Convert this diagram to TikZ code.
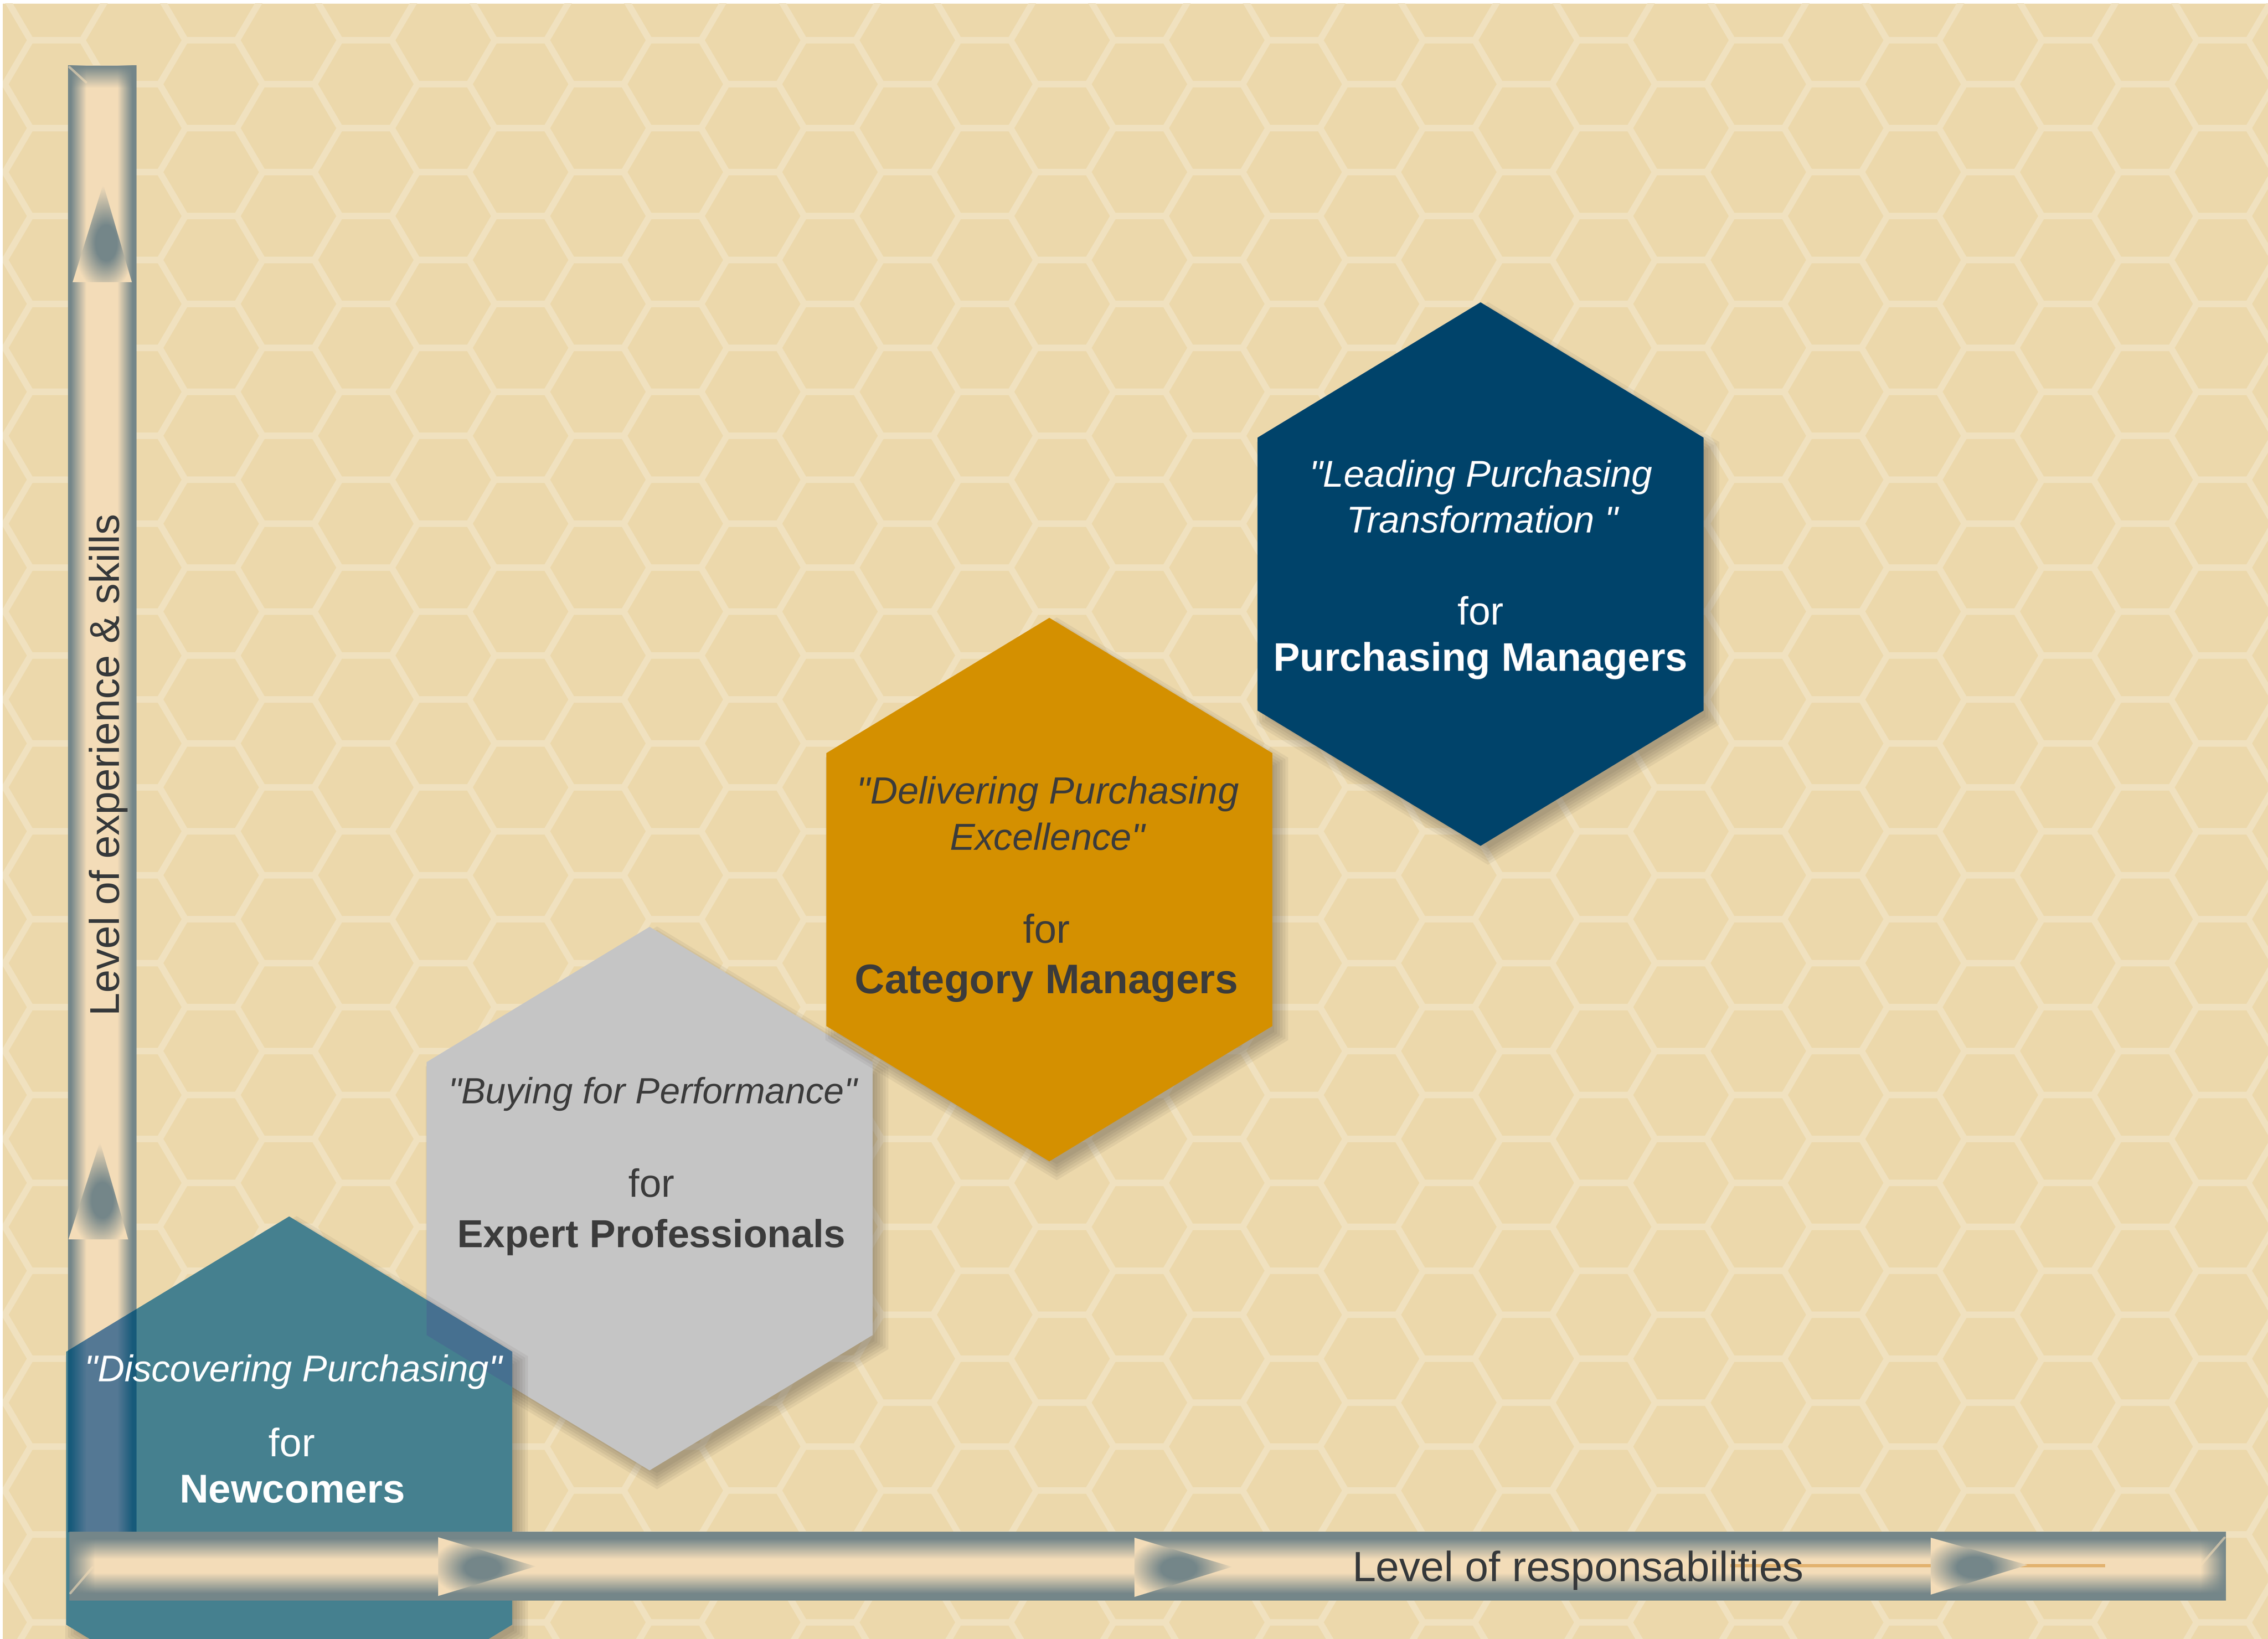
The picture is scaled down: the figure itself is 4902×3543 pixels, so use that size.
\documentclass[tikz,border=0pt]{standalone}
\usepackage{fontspec}
\setmainfont{Liberation Sans}[Ligatures=TeXOff]
\usetikzlibrary{fadings}
\definecolor{bgc}{RGB}{236,216,171}
\definecolor{hexl}{RGB}{240,225,191}
\definecolor{bdark}{RGB}{116,134,137}
\definecolor{bcream}{RGB}{243,220,184}
\definecolor{navyh}{RGB}{0,67,106}
\definecolor{orngh}{RGB}{212,144,0}
\definecolor{grayh}{RGB}{197,197,197}
\definecolor{tealh}{RGB}{69,128,143}
\definecolor{txtd}{RGB}{59,59,59}
\definecolor{axtxt}{RGB}{53,56,58}
\definecolor{shadowc}{RGB}{60,55,48}
\definecolor{ovl}{RGB}{70,112,144}
\definecolor{tbd}{RGB}{23,90,122}
\definecolor{tbm}{RGB}{84,120,148}
\definecolor{oline}{RGB}{226,178,110}
\pgfdeclarehorizontalshading{vbarsh}{100bp}{color(0bp)=(bdark); color(27bp)=(bdark); color(38.5bp)=(bcream); color(61bp)=(bcream); color(72bp)=(bdark); color(100bp)=(bdark)}
\pgfdeclareverticalshading{hbarsh}{100bp}{color(0bp)=(bdark); color(30bp)=(bdark); color(45bp)=(bcream); color(55bp)=(bcream); color(70bp)=(bdark); color(100bp)=(bdark)}
\pgfdeclarehorizontalshading{tbarsh}{100bp}{color(0bp)=(tbd); color(27bp)=(tbd); color(38.5bp)=(tbm); color(61bp)=(tbm); color(72bp)=(tbd); color(100bp)=(tbd)}
\pgfdeclareradialshading{uparr}{\pgfpoint{4bp}{-6bp}}{color(0bp)=(bdark); color(9bp)=(bdark); color(27bp)=(bcream); color(50bp)=(bcream)}
\pgfdeclareradialshading{rtarr}{\pgfpoint{-3bp}{-1bp}}{color(0bp)=(bdark); color(9bp)=(bdark); color(27bp)=(bcream); color(50bp)=(bcream)}
\tikzfading[name=fdown, top color=transparent!0, bottom color=transparent!100]
\tikzfading[name=fright, left color=transparent!0, right color=transparent!100]
\tikzfading[name=fleft, left color=transparent!100, right color=transparent!0]
% hexagon path: centre x, centre y, grow
\newcommand\hexP[3]{({#1},{#2-587.5-1.155*(#3)}) -- ({#1+482+(#3)},{#2-295-0.577*(#3)}) -- ({#1+482+(#3)},{#2+295+0.577*(#3)}) -- ({#1},{#2+587.5+1.155*(#3)}) -- ({#1-482-(#3)},{#2+295+0.577*(#3)}) -- ({#1-482-(#3)},{#2-295-0.577*(#3)}) -- cycle}
\newcommand\hexShadow[2]{\foreach \g in {-12,-6,0,6,12,18}{\fill[shadowc, opacity=0.07] \hexP{#1+16}{#2+20}{\g};}}
\tikzset{
  txt/.style={anchor=base, inner sep=0pt, outer sep=0pt},
}
\begin{document}
\begin{tikzpicture}[x=0.01cm, y=-0.01cm]
\useasboundingbox (0,0) rectangle (4902,3543);
\fill[white] (0,0) rectangle (4902,3543);
\fill[bgc] (6,8) rectangle (4902,3543);
% honeycomb background
\begin{scope}
\clip (6,8) rectangle (4902,3543);
\foreach \j in {-1,...,29}{
  \foreach \i in {-1,...,19}{
    \pgfmathsetmacro\cx{122+167.2*\j}
    \pgfmathsetmacro\cy{182+190*\i+95*mod(\j+2,2)}
    \draw[hexl, line width=0.14cm, line join=round] ({\cx+55.75},{\cy-95}) -- ({\cx-55.75},{\cy-95}) -- ({\cx-111.5},{\cy}) -- ({\cx-55.75},{\cy+95});
  }
}
\end{scope}
% vertical axis bar
\shade[shading=vbarsh] (147,142) rectangle (295,3311);
\fill[bdark, path fading=fdown] (147,142) rectangle (295,190);
\draw[bcream, line width=0.05cm, opacity=0.6, line cap=round] (150,145) -- (186,178);
\shade[shading=uparr] (223,398) -- (285,610) -- (157,610) -- cycle;
\shade[shading=uparr] (216,2468) -- (277,2679) -- (148,2679) -- cycle;
\node[txt, rotate=90, text=axtxt, font={\fontsize{25.6pt}{30pt}\selectfont}] (ylab) at (257,1654) {Level of experience \& skills};
% hexagons
\hexShadow{1404}{2591}
\fill[grayh] \hexP{1404}{2591}{0};
\hexShadow{2268}{1923}
\fill[orngh] \hexP{2268}{1923}{0};
\hexShadow{3200}{1241}
\fill[navyh] \hexP{3200}{1241}{0};
\hexShadow{625}{3217}
\fill[tealh] \hexP{625}{3217}{0};
\begin{scope}
\clip \hexP{625}{3217}{0};
\shade[shading=tbarsh] (147,2600) rectangle (295,3311);
\fill[ovl] \hexP{1404}{2591}{0};
\end{scope}
% horizontal axis bar
\shade[shading=hbarsh] (150,3311) rectangle (4811,3459);
\fill[bdark, path fading=fright] (150,3311) rectangle (205,3459);
\fill[bdark, path fading=fleft] (4756,3311) rectangle (4811,3459);
\draw[bcream, line width=0.05cm, opacity=0.6, line cap=round] (152,3444) -- (200,3388);
\draw[bcream, line width=0.05cm, opacity=0.6, line cap=round] (4808,3324) -- (4758,3382);
\draw[oline, line width=0.07cm] (3740,3384) -- (4550,3384);
\shade[shading=rtarr] (947,3323) -- (1158,3386) -- (947,3450) -- cycle;
\shade[shading=rtarr] (2452,3324) -- (2663,3387) -- (2452,3452) -- cycle;
\shade[shading=rtarr] (4173,3324) -- (4382,3383) -- (4173,3447) -- cycle;
\node[txt, text=axtxt, font={\fontsize{26pt}{30pt}\selectfont}] (xlab) at (3411,3418) {Level of responsabilities};
% texts: navy
\node[txt, text=white, font={\fontsize{22.9pt}{27pt}\selectfont\itshape}] (n1) at (3201,1052) {"Leading Purchasing};
\node[txt, text=white, font={\fontsize{22.9pt}{27pt}\selectfont\itshape}] (n2) at (3204,1151) {Transformation "};
\node[txt, text=white, font={\fontsize{24.2pt}{28pt}\selectfont}] (n3) at (3200,1350) {for};
\node[txt, text=white, font={\fontsize{24.5pt}{28pt}\selectfont\bfseries}] (n4) at (3200,1450) {Purchasing Managers};
% orange
\node[txt, text=txtd, font={\fontsize{23.3pt}{27pt}\selectfont\itshape}] (o1) at (2265,1737) {"Delivering Purchasing};
\node[txt, text=txtd, font={\fontsize{23.1pt}{27pt}\selectfont\itshape}] (o2) at (2264,1837) {Excellence"};
\node[txt, text=txtd, font={\fontsize{24.8pt}{28pt}\selectfont}] (o3) at (2262,2038) {for};
\node[txt, text=txtd, font={\fontsize{25.4pt}{29pt}\selectfont\bfseries}] (o4) at (2262,2147) {Category Managers};
% gray
\node[txt, text=txtd, font={\fontsize{22.4pt}{27pt}\selectfont\itshape}] (g1) at (1411,2385) {"Buying for Performance"};
\node[txt, text=txtd, font={\fontsize{24.2pt}{28pt}\selectfont}] (g2) at (1408,2587) {for};
\node[txt, text=txtd, font={\fontsize{24pt}{28pt}\selectfont\bfseries}] (g3) at (1408,2696) {Expert Professionals};
% teal
\node[txt, text=white, font={\fontsize{22.9pt}{27pt}\selectfont\itshape}] (t1) at (634,2986) {"Discovering Purchasing"};
\node[txt, text=white, font={\fontsize{24.4pt}{28pt}\selectfont}] (t2) at (631,3148) {for};
\node[txt, text=white, font={\fontsize{24.7pt}{28pt}\selectfont\bfseries}] (t3) at (632,3248) {Newcomers};
\end{tikzpicture}
\end{document}
